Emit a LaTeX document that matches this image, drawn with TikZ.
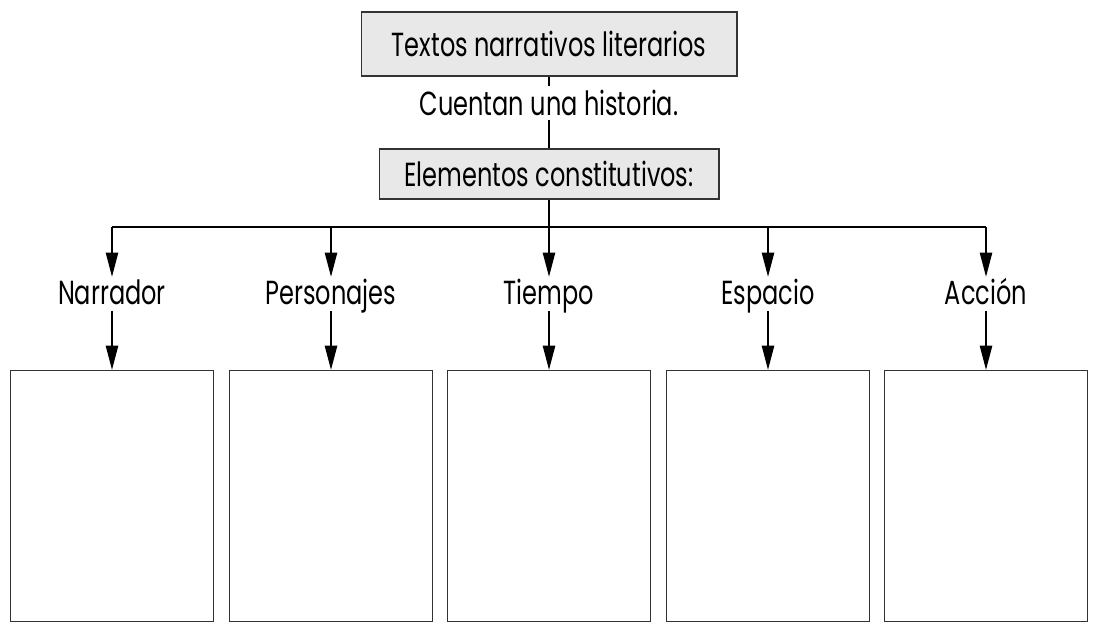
\documentclass[tikz,border=0pt]{standalone}
\usepackage{fontspec}
\setmainfont{Poppins}[FakeStretch=0.72]
\usetikzlibrary{arrows.meta}

\begin{document}
\begin{tikzpicture}[x=0.02cm,y=-0.02cm,line width=1.2pt,
    font=\fontsize{19}{22}\selectfont,
    titulo/.style={draw=black!80,fill=black!9,line width=0.6pt},
    etiqueta/.style={text height=2.4ex,text depth=0.2ex,inner sep=2pt},
    casilla/.style={draw=black!80,line width=0.6pt,minimum width=4.06cm,minimum height=5.02cm},
    flecha/.style={arrows = -{Triangle[angle=28:5mm]}}]

            % \draw [help lines] (0,0) grid (1097,628);
            \useasboundingbox (0,0) rectangle (1097,628);

            \path   (549,44) node (tex) [titulo,minimum width=7.52cm,minimum height=1.28cm] {Textos narrativos literarios}
                    (549,103) node (cue) [inner sep=2pt] {Cuentan una historia.}
                    (549,174) node (ele) [titulo,minimum width=6.8cm,minimum height=1cm] {Elementos constitutivos:}

                    (549,227) coordinate (hub)

                    (112,294) node (nar) [etiqueta] {Narrador}
                    (331,294) node (per) [etiqueta] {Personajes}
                    (549,294) node (tie) [etiqueta] {Tiempo}
                    (768,294) node (esp) [etiqueta] {Espacio}
                    (986,294) node (acc) [etiqueta] {Acción}

                    (112,496) node (bnar) [casilla] {}
                    (331,496) node (bper) [casilla] {}
                    (549,496) node (btie) [casilla] {}
                    (768,496) node (besp) [casilla] {}
                    (986,496) node (bacc) [casilla] {};

            \draw (tex) -- (cue);
            \draw (cue) -- (ele);
            \draw (ele.south) -- (hub);
            \draw (nar |- hub) -- (acc |- hub);

            \draw[flecha] (nar |- hub) -- (nar);
            \draw[flecha] (per |- hub) -- (per);
            \draw[flecha] (hub) -- (tie);
            \draw[flecha] (esp |- hub) -- (esp);
            \draw[flecha] (acc |- hub) -- (acc);

            \draw[flecha] (nar) -- (bnar);
            \draw[flecha] (per) -- (bper);
            \draw[flecha] (tie) -- (btie);
            \draw[flecha] (esp) -- (besp);
            \draw[flecha] (acc) -- (bacc);
        \end{tikzpicture}
\end{document}
